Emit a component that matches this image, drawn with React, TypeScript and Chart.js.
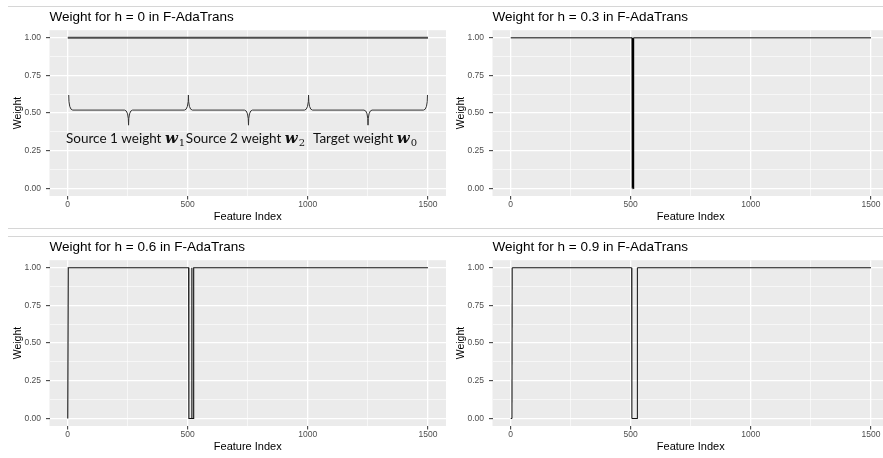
import React, { useEffect, useRef } from 'react';
import { Chart, registerables } from 'chart.js';

Chart.register(...registerables);

// ---------- axes ----------
const X_TICKS = [0, 250, 500, 750, 1000, 1250, 1500];
const X_MAJOR = [0, 500, 1000, 1500];
const Y_TICKS = [0, 0.125, 0.25, 0.375, 0.5, 0.625, 0.75, 0.875, 1];
const Y_MAJOR = [0, 0.25, 0.5, 0.75, 1];
const X_MIN = -75;
const X_MAX = 1575;
const Y_MIN = -0.05;
const Y_MAX = 1.05;

const TITLES = [
  'Weight for h = 0 in F-AdaTrans',
  'Weight for h = 0.3 in F-AdaTrans',
  'Weight for h = 0.6 in F-AdaTrans',
  'Weight for h = 0.9 in F-AdaTrans',
];
const X_TITLE = 'Feature Index';
const Y_TITLE = 'Weight';

// ---------- series (feature index, weight) breakpoints ----------
const H0_INDEX = [1, 1500];
const H0_WEIGHT = [1, 1];

const H03_INDEX = [1, 506, 507, 511, 512, 1500];
const H03_WEIGHT = [1, 1, 0, 0, 1, 1];

const H06_INDEX = [1, 3, 504, 505, 516, 517, 518, 524, 525, 1500];
const H06_WEIGHT = [0, 1, 1, 0, 0, 1, 0, 0, 1, 1];

const H09_INDEX = [1, 6, 7, 504, 505, 527, 528, 1500];
const H09_WEIGHT = [0, 0, 1, 1, 0, 0, 1, 1];

// ---------- brace annotation (panel h = 0) ----------
const BRACE_FROM = [5, 503, 1003];
const BRACE_TO = [503, 1003, 1498];
const BRACE_TOP = 0.62;
const BRACE_MID = 0.52;
const BRACE_TIP = 0.42;
const LABEL_Y = 0.3;
const BRACE_TEXT = ['Source 1 weight ', 'Source 2 weight ', 'Target weight '];
const BRACE_SYMBOL = 'w';
const BRACE_SUB = ['1', '2', '0'];

// ---------- layout / style ----------
const FONT = '"Liberation Sans", Arial, Helvetica, sans-serif';
const CW = 446;
const CH = 228;
const Y_AXIS_W = 49.5;
const X_AXIS_H = 32;

const bgPlugin = {
  id: 'panelBg',
  beforeDraw(chart: any) {
    const { ctx, chartArea } = chart;
    const { left, top, right, bottom } = chartArea;
    ctx.save();
    ctx.fillStyle = '#EBEBEB';
    ctx.fillRect(left, top, right - left, bottom - top);
    ctx.restore();
  },
};

const bracePlugin = {
  id: 'braces',
  afterDatasetsDraw(chart: any) {
    const { ctx } = chart;
    const xs = chart.scales.x;
    const ys = chart.scales.y;
    const yTop = ys.getPixelForValue(BRACE_TOP);
    const yMid = ys.getPixelForValue(BRACE_MID);
    const yTip = ys.getPixelForValue(BRACE_TIP);
    const yText = ys.getPixelForValue(LABEL_Y);
    const r = 4;
    ctx.save();
    ctx.strokeStyle = '#333333';
    ctx.lineWidth = 1;
    for (let i = 0; i < BRACE_FROM.length; i++) {
      const x0 = xs.getPixelForValue(BRACE_FROM[i]);
      const x1 = xs.getPixelForValue(BRACE_TO[i]);
      const xc = (x0 + x1) / 2;
      ctx.beginPath();
      ctx.moveTo(x0, yTop);
      ctx.quadraticCurveTo(x0, yMid, x0 + r, yMid);
      ctx.lineTo(xc - r, yMid);
      ctx.quadraticCurveTo(xc, yMid, xc, yTip);
      ctx.quadraticCurveTo(xc, yMid, xc + r, yMid);
      ctx.lineTo(x1 - r, yMid);
      ctx.quadraticCurveTo(x1, yMid, x1, yTop);
      ctx.stroke();

      // label
      const f1 = '13.5px Lato, "Open Sans", sans-serif';
      const f2 = 'italic bold 15px "DejaVu Serif", serif';
      const f3 = '10px "DejaVu Serif", serif';
      ctx.font = f1;
      const w1 = ctx.measureText(BRACE_TEXT[i]).width;
      ctx.font = f2;
      const w2 = ctx.measureText(BRACE_SYMBOL).width;
      ctx.font = f3;
      const w3 = ctx.measureText(BRACE_SUB[i]).width;
      const total = w1 + w2 + w3 + 1;
      let x = xc - total / 2 - 3;
      ctx.fillStyle = '#111111';
      ctx.textBaseline = 'alphabetic';
      ctx.textAlign = 'left';
      ctx.font = f1;
      ctx.fillText(BRACE_TEXT[i], x, yText);
      x += w1;
      ctx.font = f2;
      ctx.fillText(BRACE_SYMBOL, x, yText);
      x += w2 + 1;
      ctx.font = f3;
      ctx.fillText(BRACE_SUB[i], x, yText + 3);
    }
    ctx.restore();
  },
};

type PanelProps = {
  title: string;
  xs: number[];
  ys: number[];
  left: number;
  top: number;
  flatColor: string;
  stepColor: string;
  flatWidth: number;
  stepWidth: number;
  braces?: boolean;
};

function Panel(p: PanelProps) {
  const ref = useRef<HTMLCanvasElement>(null);
  useEffect(() => {
    const canvas = ref.current;
    if (!canvas) return;
    const points = p.xs.map((x, i) => ({ x, y: p.ys[i] }));
    const isStep = (c: any) => c.p0.parsed.y !== c.p1.parsed.y;
    const chart = new Chart(canvas, {
      type: 'line',
      data: {
        datasets: [
          {
            data: points,
            borderColor: p.flatColor,
            borderWidth: p.flatWidth,
            pointRadius: 0,
            tension: 0,
            fill: false,
            segment: {
              borderColor: (c: any) => (isStep(c) ? p.stepColor : p.flatColor),
              borderWidth: (c: any) => (isStep(c) ? p.stepWidth : p.flatWidth),
            },
          } as any,
        ],
      },
      options: {
        animation: false,
        responsive: false,
        maintainAspectRatio: false,
        events: [],
        layout: { padding: 0 },
        plugins: {
          legend: { display: false },
          tooltip: { enabled: false },
          title: {
            display: true,
            text: p.title,
            align: 'start',
            fullSize: false,
            color: '#000000',
            font: { family: FONT, size: 13.5, weight: 'normal' as any },
            padding: { top: 9.2, bottom: 4.8 },
          },
        },
        scales: {
          x: {
            type: 'linear',
            min: X_MIN,
            max: X_MAX,
            afterBuildTicks: (s: any) => {
              s.ticks = X_TICKS.map((v) => ({ value: v }));
            },
            afterFit: (s: any) => {
              s.height = X_AXIS_H;
            },
            ticks: {
              autoSkip: false,
              maxRotation: 0,
              minRotation: 0,
              padding: 0.5,
              color: '#4D4D4D',
              font: { family: FONT, size: 8.5 },
              callback: (v: any) => (X_MAJOR.includes(Number(v)) ? String(v) : ''),
            },
            grid: {
              color: '#FFFFFF',
              lineWidth: (c: any) => (X_MAJOR.includes(c.tick?.value) ? 1.3 : 0.6),
              tickLength: 3.5,
              tickWidth: 1,
              tickColor: (c: any) => (X_MAJOR.includes(c.tick?.value) ? '#333333' : 'rgba(0,0,0,0)'),
            },
            border: { display: false },
            title: {
              display: true,
              text: X_TITLE,
              color: '#000000',
              font: { family: FONT, size: 11 },
              padding: { top: 0, bottom: 4.7 },
            },
          },
          y: {
            type: 'linear',
            min: Y_MIN,
            max: Y_MAX,
            afterBuildTicks: (s: any) => {
              s.ticks = Y_TICKS.map((v) => ({ value: v }));
            },
            afterFit: (s: any) => {
              s.width = Y_AXIS_W;
            },
            ticks: {
              autoSkip: false,
              padding: 5,
              color: '#4D4D4D',
              font: { family: FONT, size: 8.5 },
              callback: (v: any) => (Y_MAJOR.includes(Number(v)) ? Number(v).toFixed(2) : ''),
            },
            grid: {
              color: '#FFFFFF',
              lineWidth: (c: any) => (Y_MAJOR.includes(c.tick?.value) ? 1.3 : 0.6),
              tickLength: 3.5,
              tickWidth: 1,
              tickColor: (c: any) => (Y_MAJOR.includes(c.tick?.value) ? '#333333' : 'rgba(0,0,0,0)'),
            },
            border: { display: false },
            title: {
              display: true,
              text: Y_TITLE,
              color: '#000000',
              font: { family: FONT, size: 10.5 },
              padding: { top: 11.7, bottom: 0 },
            },
          },
        },
      } as any,
      plugins: p.braces ? [bgPlugin, bracePlugin] : [bgPlugin],
    });
    return () => chart.destroy();
  }, []);
  return (
    <canvas
      ref={ref}
      width={CW}
      height={CH}
      style={{ position: 'absolute', left: p.left, top: p.top, width: CW, height: CH }}
    />
  );
}

const SEP_STYLE = (top: number): React.CSSProperties => ({
  position: 'absolute',
  left: 8,
  top,
  width: 875,
  height: 1,
  background: '#D6D6D6',
});

export default function App() {
  return (
    <div
      style={{
        position: 'fixed',
        left: 0,
        top: 0,
        width: 883,
        height: 458,
        overflow: 'hidden',
        background: '#FFFFFF',
      }}
    >
      <Panel title={TITLES[0]} xs={H0_INDEX} ys={H0_WEIGHT} left={0} top={0}
        flatColor="#4D4D4D" stepColor="#4D4D4D" flatWidth={1.8} stepWidth={1.8} braces />
      <Panel title={TITLES[1]} xs={H03_INDEX} ys={H03_WEIGHT} left={443} top={0}
        flatColor="#555555" stepColor="#000000" flatWidth={1.7} stepWidth={1.3} />
      <Panel title={TITLES[2]} xs={H06_INDEX} ys={H06_WEIGHT} left={0} top={230.3}
        flatColor="#111111" stepColor="#111111" flatWidth={1.1} stepWidth={1.1} />
      <Panel title={TITLES[3]} xs={H09_INDEX} ys={H09_WEIGHT} left={443} top={230.3}
        flatColor="#111111" stepColor="#222222" flatWidth={1.1} stepWidth={1.1} />
      <div style={SEP_STYLE(6)} />
      <div style={SEP_STYLE(228)} />
      <div style={SEP_STYLE(236)} />
    </div>
  );
}
